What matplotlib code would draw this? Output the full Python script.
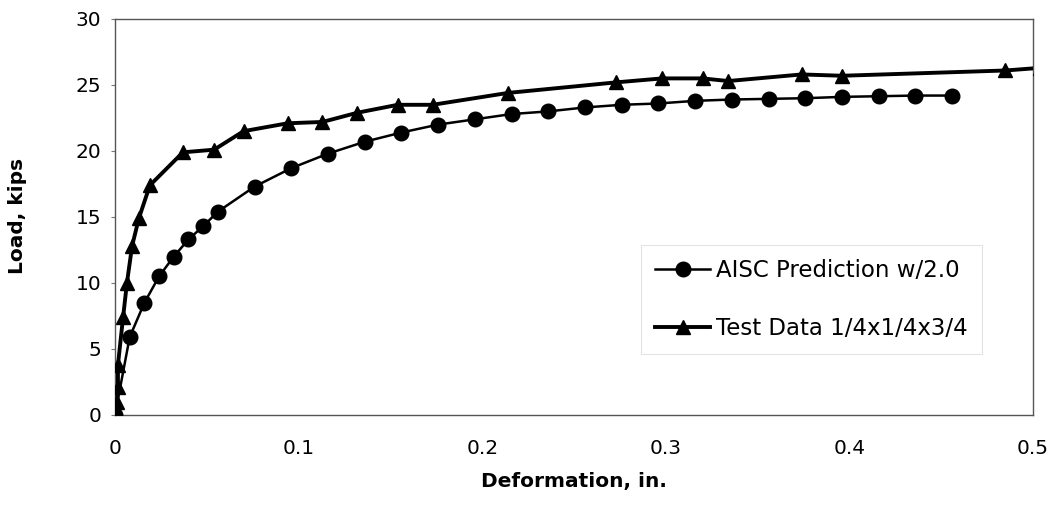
import matplotlib
matplotlib.use("Agg")
import matplotlib.pyplot as plt

# AISC Prediction w/2.0 (circles)
aisc_x = [0.0, 0.008, 0.016, 0.024, 0.032, 0.040, 0.048, 0.056,
          0.076, 0.096, 0.116, 0.136, 0.156, 0.176, 0.196, 0.216, 0.236, 0.256,
          0.276, 0.296, 0.316, 0.336, 0.356, 0.376, 0.396, 0.416, 0.436, 0.456]
aisc_y = [0.0, 5.9, 8.5, 10.5, 12.0, 13.3, 14.3, 15.4,
          17.3, 18.7, 19.8, 20.7, 21.4, 22.0, 22.4, 22.8, 23.0, 23.3,
          23.5, 23.6, 23.8, 23.9, 23.95, 24.0, 24.1, 24.15, 24.2, 24.2]

# Test Data 1/4x1/4x3/4 (triangles)
test_x = [0.0, 0.001, 0.0016, 0.0016, 0.0044, 0.0065, 0.0093, 0.013, 0.019,
          0.037, 0.054, 0.070, 0.094, 0.113, 0.132, 0.154, 0.173, 0.214,
          0.273, 0.298, 0.320, 0.334, 0.374, 0.396, 0.485, 0.504]
test_y = [0.0, 1.0, 2.1, 3.8, 7.4, 10.0, 12.8, 14.9, 17.4,
          19.9, 20.1, 21.5, 22.1, 22.2, 22.9, 23.5, 23.5, 24.4,
          25.2, 25.5, 25.5, 25.3, 25.8, 25.7, 26.1, 26.3]

x_ticks = [0, 0.1, 0.2, 0.3, 0.4, 0.5]
x_tick_labels = ["0", "0.1", "0.2", "0.3", "0.4", "0.5"]
y_ticks = [0, 5, 10, 15, 20, 25, 30]

label_aisc = "AISC Prediction w/2.0"
label_test = "Test Data 1/4x1/4x3/4"

fig = plt.figure(figsize=(10.59, 5.12), dpi=100)
ax = fig.add_axes([115/1059, 97/512, (1033-115)/1059, (415-19)/512])

ax.plot(aisc_x, aisc_y, color="black", lw=1.8, marker="o", markersize=10.5,
        label=label_aisc, zorder=3)
ax.plot(test_x, test_y, color="black", lw=2.8, marker="^", markersize=10,
        label=label_test, zorder=4)

ax.set_xlim(0, 0.5)
ax.set_ylim(0, 30)
ax.set_xticks(x_ticks)
ax.set_xticklabels(x_tick_labels)
ax.set_yticks(y_ticks)
ax.tick_params(axis="x", length=0, pad=17, labelsize=14.5)
ax.tick_params(axis="y", length=3, width=0.8, color="#777777", pad=7, labelsize=14.5)
for s in ax.spines.values():
    s.set_color("#555555")
    s.set_linewidth(1.0)

fig.text(18/1059, 1 - 216/512, "Load, kips", rotation=90, ha="center", va="center",
         fontsize=14.5, fontweight="bold")
fig.text(574/1059, 1 - 481/512, "Deformation, in.", ha="center", va="center",
         fontsize=14.5, fontweight="bold")

leg = ax.legend(loc="upper left", bbox_to_anchor=((641-115)/918, (415-245)/396),
                frameon=True, fancybox=False, fontsize=16.5, handlelength=2.4,
                handletextpad=0.26, labelspacing=1.52, borderpad=0.62,
                borderaxespad=0)
leg.get_frame().set_edgecolor("#dddddd")
leg.get_frame().set_linewidth(0.8)

fig.savefig("out.png", dpi=100)
